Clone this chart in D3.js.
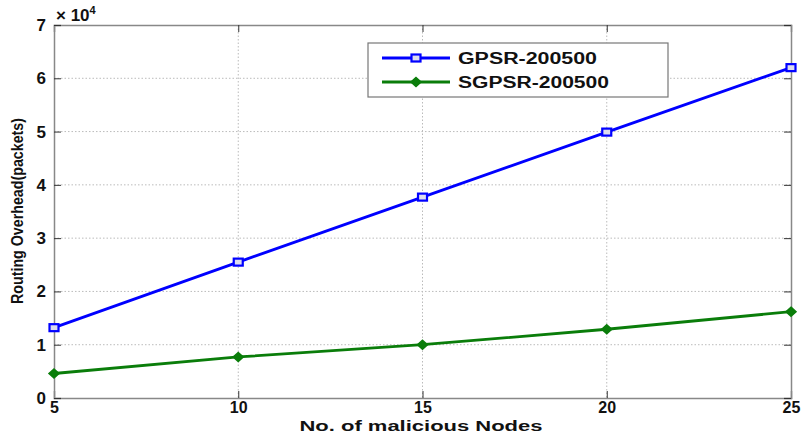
<!DOCTYPE html>
<html>
<head>
<meta charset="utf-8">
<script src="https://cdn.jsdelivr.net/npm/d3@7"></script>
<style>
  html, body { margin: 0; padding: 0; background: #fff; }
  svg { display: block; font-family: "Liberation Sans", Arial, sans-serif; }
</style>
</head>
<body>
<svg id="chart" width="806" height="436"></svg>
<script>
// Routing overhead vs. number of malicious nodes
const nodes = [5, 10, 15, 20, 25];
const gpsr = [13200, 25500, 37700, 49900, 62000];
const sgpsr = [4600, 7700, 10000, 12900, 16200];
const xTicks = [5, 10, 15, 20, 25];
const yTicks = [0, 1, 2, 3, 4, 5, 6, 7];
const seriesNames = ["GPSR-200500", "SGPSR-200500"];

const svg = d3.select("#chart");
const m = { left: 54, right: 791, top: 25, bottom: 398 };

const x = d3.scaleLinear().domain([5, 25]).range([m.left, m.right]);
const y = d3.scaleLinear().domain([0, 70000]).range([m.bottom, m.top]);

const axisColor = "#888";
const gridColor = "#bbb";

// grid
const g = svg.append("g");
g.selectAll(".gx").data(xTicks.slice(1, -1)).join("line")
  .attr("x1", d => x(d)).attr("x2", d => x(d))
  .attr("y1", m.top).attr("y2", m.bottom)
  .attr("stroke", gridColor).attr("stroke-dasharray", "1.5,2").attr("stroke-width", 1);
g.selectAll(".gy").data(yTicks.slice(1, -1)).join("line")
  .attr("x1", m.left).attr("x2", m.right)
  .attr("y1", d => y(d * 10000)).attr("y2", d => y(d * 10000))
  .attr("stroke", gridColor).attr("stroke-dasharray", "1.5,2").attr("stroke-width", 1);

// axes (ticks pointing inward, mirrored on opposite sides)
svg.append("g").attr("class", "xa").attr("transform", `translate(0,${m.bottom})`)
  .call(d3.axisBottom(x).tickValues(xTicks).tickSize(-7).tickPadding(4).tickFormat(d => d));
svg.append("g").attr("transform", `translate(0,${m.top})`)
  .call(d3.axisTop(x).tickValues(xTicks).tickSize(-7).tickFormat(""));
svg.append("g").attr("class", "ya").attr("transform", `translate(${m.left},0)`)
  .call(d3.axisLeft(y).tickValues(yTicks.map(d => d * 10000)).tickSize(-7).tickPadding(8).tickFormat(d => d / 10000));
svg.append("g").attr("transform", `translate(${m.right},0)`)
  .call(d3.axisRight(y).tickValues(yTicks.map(d => d * 10000)).tickSize(-7).tickFormat(""));

svg.selectAll(".domain").attr("stroke", axisColor).attr("stroke-width", 1.5);
svg.selectAll(".tick line").attr("stroke", "#333").attr("stroke-width", 1);
svg.selectAll(".tick text")
  .attr("font-family", "Liberation Sans, Arial, sans-serif")
  .attr("font-size", 17).attr("font-weight", "bold").attr("fill", "#111");
svg.selectAll(".xa .tick text").attr("font-size", 16).attr("dy", "0.68em");

// exponent label
const ex = svg.append("text").attr("x", 56).attr("y", 21)
  .attr("font-size", 17).attr("font-weight", "bold").attr("fill", "#111");
ex.append("tspan").text("\u00d7 10");
ex.append("tspan").attr("dy", -7).attr("font-size", 11).text("4");

// axis titles
svg.append("text").attr("x", 421).attr("y", 431)
  .attr("text-anchor", "middle").attr("font-size", 14).attr("font-weight", "bold").attr("fill", "#111")
  .attr("textLength", 243).attr("lengthAdjust", "spacingAndGlyphs")
  .text("No. of malicious Nodes");
svg.append("text").attr("transform", `translate(23,211) rotate(-90)`)
  .attr("text-anchor", "middle").attr("font-size", 16).attr("font-weight", "bold").attr("fill", "#111")
  .attr("textLength", 186).attr("lengthAdjust", "spacingAndGlyphs")
  .text("Routing Overhead(packets)");

// series
const line = d3.line().x((d, i) => x(nodes[i])).y(d => y(d));
const colors = ["#0000ff", "#0a7d0a"];

svg.append("path").datum(gpsr).attr("d", line)
  .attr("fill", "none").attr("stroke", colors[0]).attr("stroke-width", 2.8);
svg.append("path").datum(sgpsr).attr("d", line)
  .attr("fill", "none").attr("stroke", colors[1]).attr("stroke-width", 2.8);

function square(sel, cx, cy, c) {
  sel.append("rect").attr("x", cx - 4.5).attr("y", cy - 3.5).attr("width", 9).attr("height", 7)
    .attr("fill", "#dde").attr("stroke", c).attr("stroke-width", 2.2);
}
function diamond(sel, cx, cy, c) {
  sel.append("path").attr("d", `M${cx},${cy - 4.5}L${cx + 5},${cy}L${cx},${cy + 4.5}L${cx - 5},${cy}Z`)
    .attr("fill", c).attr("stroke", c).attr("stroke-width", 1.5);
}
gpsr.forEach((v, i) => square(svg, x(nodes[i]), y(v), colors[0]));
sgpsr.forEach((v, i) => diamond(svg, x(nodes[i]), y(v), colors[1]));

// legend
const lg = svg.append("g");
lg.append("rect").attr("x", 368).attr("y", 43).attr("width", 300).attr("height", 54)
  .attr("fill", "#fff").attr("stroke", "#777").attr("stroke-width", 1.2);
const rows = [58, 82];
const labelWidths = [139, 151];
seriesNames.forEach((name, i) => {
  lg.append("line").attr("x1", 382).attr("x2", 450).attr("y1", rows[i]).attr("y2", rows[i])
    .attr("stroke", colors[i]).attr("stroke-width", 2.8);
  if (i === 0) square(lg, 416, rows[i], colors[i]); else diamond(lg, 416, rows[i], colors[i]);
  lg.append("text").attr("x", 458).attr("y", rows[i] + 6)
    .attr("font-size", 16).attr("font-weight", "bold").attr("fill", "#111")
    .attr("textLength", labelWidths[i]).attr("lengthAdjust", "spacingAndGlyphs").text(name);
});
</script>
</body>
</html>
